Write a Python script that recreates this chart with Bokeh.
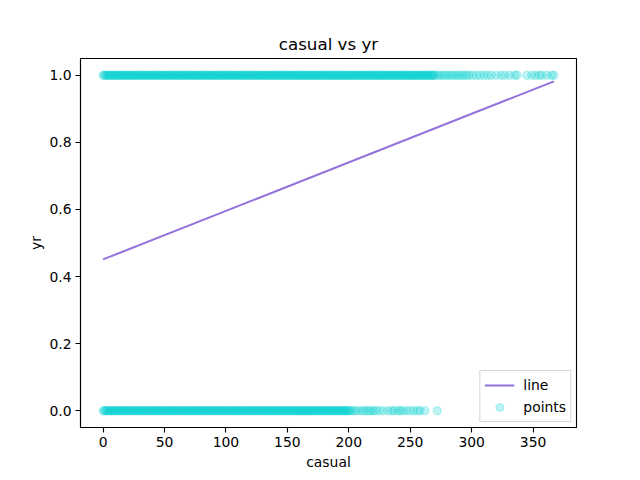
from bokeh.plotting import figure
from bokeh.models import FixedTicker, PrintfTickFormatter, Legend, LegendItem, ColumnDataSource
from bokeh.embed import file_html
from bokeh.resources import INLINE

# casual values observed for yr = 0
casual_yr0 = [0, 1, 2, 3, 4, 5, 6, 7, 8, 9, 10, 11, 12, 13, 14, 15, 16, 17, 18, 19,
              20, 21, 22, 23, 24, 25, 26, 27, 28, 29, 30, 31, 32, 33, 34, 35, 36, 37, 38, 39,
              40, 41, 42, 43, 44, 45, 46, 47, 48, 49, 50, 51, 52, 53, 54, 55, 56, 57, 58, 59,
              60, 61, 62, 63, 64, 65, 66, 67, 68, 69, 70, 71, 72, 73, 74, 75, 76, 77, 78, 79,
              80, 81, 82, 83, 84, 85, 86, 87, 88, 89, 90, 91, 92, 93, 94, 95, 96, 97, 98, 99,
              100, 101, 102, 103, 104, 105, 106, 107, 108, 109, 110, 111, 112, 113, 114, 115,
              116, 117, 118, 119, 120, 121, 122, 123, 124, 125, 126, 127, 128, 129, 130, 131,
              132, 133, 134, 135, 136, 137, 138, 139, 140, 141, 142, 143, 144, 145, 146, 147,
              148, 149, 150, 151, 152, 153, 154, 155, 156, 157, 158, 159, 160, 161, 162, 163,
              164, 165, 166, 167, 168, 169, 170, 171, 172, 173, 174, 175, 176, 177, 178, 179,
              180, 181, 182, 183, 184, 185, 186, 187, 188, 189, 190, 191, 192, 193, 194, 195,
              196, 197, 198, 199, 200, 201, 203, 205, 207, 210, 212, 214, 216, 218, 220, 222,
              225, 228, 232, 235, 237, 240, 242, 244, 247, 250, 253, 256, 258, 262, 272]

# casual values observed for yr = 1
casual_yr1 = [0, 1, 2, 3, 4, 5, 6, 7, 8, 9, 10, 11, 12, 13, 14, 15, 16, 17, 18, 19,
              20, 21, 22, 23, 24, 25, 26, 27, 28, 29, 30, 31, 32, 33, 34, 35, 36, 37, 38, 39,
              40, 41, 42, 43, 44, 45, 46, 47, 48, 49, 50, 51, 52, 53, 54, 55, 56, 57, 58, 59,
              60, 61, 62, 63, 64, 65, 66, 67, 68, 69, 70, 71, 72, 73, 74, 75, 76, 77, 78, 79,
              80, 81, 82, 83, 84, 85, 86, 87, 88, 89, 90, 91, 92, 93, 94, 95, 96, 97, 98, 99,
              100, 101, 102, 103, 104, 105, 106, 107, 108, 109, 110, 111, 112, 113, 114, 115,
              116, 117, 118, 119, 120, 121, 122, 123, 124, 125, 126, 127, 128, 129, 130, 131,
              132, 133, 134, 135, 136, 137, 138, 139, 140, 141, 142, 143, 144, 145, 146, 147,
              148, 149, 150, 151, 152, 153, 154, 155, 156, 157, 158, 159, 160, 161, 162, 163,
              164, 165, 166, 167, 168, 169, 170, 171, 172, 173, 174, 175, 176, 177, 178, 179,
              180, 181, 182, 183, 184, 185, 186, 187, 188, 189, 190, 191, 192, 193, 194, 195,
              196, 197, 198, 199, 200, 201, 202, 203, 204, 205, 206, 207, 208, 209, 210, 211,
              212, 213, 214, 215, 216, 217, 218, 219, 220, 221, 222, 223, 224, 225, 226, 227,
              228, 229, 230, 231, 232, 233, 234, 235, 236, 237, 238, 239, 240, 241, 242, 243,
              244, 245, 246, 247, 248, 249, 250, 251, 252, 253, 254, 255, 256, 257, 258, 259,
              260, 261, 262, 263, 264, 265, 266, 267, 268, 269, 270, 272, 274, 276, 278, 280,
              282, 284, 286, 288, 290, 292, 294, 296, 298, 301, 304, 307, 310, 313, 316, 320,
              324, 327, 331, 335, 337, 345, 349, 352, 355, 357, 361, 365, 367]

# fitted regression line endpoints
line_x = [0, 367]
line_y = [0.451, 0.982]

x_ticks = [0, 50, 100, 150, 200, 250, 300, 350]
y_ticks = [0.0, 0.2, 0.4, 0.6, 0.8, 1.0]

pts_x = casual_yr0 + casual_yr1
pts_y = [0] * len(casual_yr0) + [1] * len(casual_yr1)
src = ColumnDataSource(dict(x=pts_x, y=pts_y))

p = figure(width=632, height=472, output_backend="svg", toolbar_location=None,
           x_range=(-18.35, 385.35), y_range=(-0.05, 1.05),
           title="casual vs yr",
           min_border_left=80, min_border_right=56, min_border_top=58, min_border_bottom=45)

lr = p.line(line_x, line_y, line_color="#9370DB", line_width=2)
pr = p.scatter("x", "y", source=src, size=8.3, fill_color="#00CED1", line_color="#00CED1",
               fill_alpha=0.25, line_alpha=0.25)

p.title.align = "center"
p.title.text_font = "DejaVu Sans"
p.title.text_font_size = "16.7px"
p.title.text_font_style = "normal"
p.title.text_color = "black"
p.title.standoff = 9

p.xgrid.visible = False
p.ygrid.visible = False
p.outline_line_color = "black"
p.outline_line_width = 1.1

for ax in (p.xaxis[0], p.yaxis[0]):
    ax.axis_line_color = "black"
    ax.axis_line_width = 1.1
    ax.major_tick_line_color = "black"
    ax.major_tick_line_width = 1.1
    ax.major_tick_out = 5
    ax.major_tick_in = 0
    ax.minor_tick_line_color = None
    ax.major_label_text_font = "DejaVu Sans"
    ax.major_label_text_font_size = "13.9px"
    ax.major_label_text_color = "black"
    ax.axis_label_text_font = "DejaVu Sans"
    ax.axis_label_text_font_size = "13.9px"
    ax.axis_label_text_font_style = "normal"
    ax.axis_label_text_color = "black"

p.xaxis[0].ticker = FixedTicker(ticks=x_ticks)
p.yaxis[0].ticker = FixedTicker(ticks=y_ticks)
p.yaxis[0].formatter = PrintfTickFormatter(format="%.1f")
p.xaxis[0].axis_label = "casual"
p.yaxis[0].axis_label = "yr"
p.xaxis[0].major_label_standoff = 4
p.yaxis[0].major_label_standoff = 4
p.xaxis[0].axis_label_standoff = 4
p.yaxis[0].axis_label_standoff = 2

legend = Legend(items=[LegendItem(label="line", renderers=[lr]),
                       LegendItem(label="points", renderers=[pr])],
                location="bottom_right")
legend.label_text_font = "DejaVu Sans"
legend.label_text_font_size = "13.9px"
legend.label_text_color = "black"
legend.border_line_color = "#cccccc"
legend.border_line_alpha = 0.8
legend.background_fill_alpha = 0.8
legend.margin = 5
legend.padding = 4
legend.spacing = 2
legend.glyph_width = 30
legend.label_standoff = 9
p.add_layout(legend)

open("out.html", "w").write(file_html(p, INLINE))
